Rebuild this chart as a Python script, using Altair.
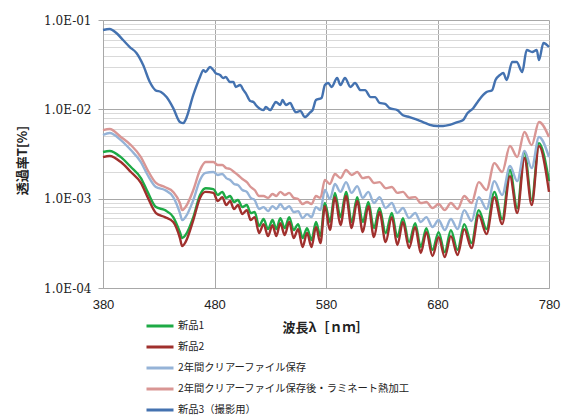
import altair as alt
import pandas as pd

# Series names (legend order) and line colours
series = [
    "新品1",
    "新品2",
    "2年間クリアーファイル保存",
    "2年間クリアーファイル保存後・ラミネート熱加工",
    "新品3（撮影用）",
]
colors = ["#1DAA45", "#A0302D", "#95B3D7", "#D99694", "#4472B0"]

# Wavelength grid (nm) shared by the four lower samples
wl_low = [380, 386, 396, 405, 414, 420, 427.5, 435.5, 443, 449, 451, 454, 461, 467, 472,
          479, 483, 487, 490.5, 494, 497.5, 501, 505, 509, 512.5, 516, 520, 524, 528,
          532, 535.5, 539, 543, 547, 551, 555, 559, 563, 567, 571, 575, 579, 583.5,
          588, 593, 598, 603, 608, 613, 618, 623, 628, 633.5, 639, 644, 649, 654.5,
          660, 665, 670, 675.5, 681, 686.5, 692, 698, 704, 710.5, 717, 724, 731, 738,
          745, 751.5, 758, 764.5, 771, 780]

# Transmittance in units of 1e-3 %
new1 = [3.33, 3.41, 2.92, 2.26, 1.70, 1.19, 0.805, 0.745, 0.622, 0.422, 0.362, 0.391, 0.622, 1.10, 1.31,
        1.28, 1.10, 1.19, 1.02, 1.07, 0.916, 0.965, 0.805, 0.848, 0.690, 0.708, 0.493, 0.591, 0.456,
        0.576, 0.456, 0.606, 0.468, 0.622, 0.445, 0.519, 0.362, 0.468, 0.344, 0.547, 0.381, 0.893, 0.547,
        1.16, 0.622, 1.19, 0.547, 1.04, 0.547, 0.916, 0.468, 0.785, 0.412, 0.690, 0.371, 0.606, 0.326,
        0.533, 0.287, 0.468, 0.266, 0.422, 0.252, 0.445, 0.266, 0.519, 0.318, 0.745, 0.456, 1.19, 0.591,
        2.09, 0.785, 3.33, 0.965, 4.19, 1.57]
new2 = [2.92, 3.00, 2.57, 1.99, 1.50, 1.04, 0.690, 0.622, 0.547, 0.362, 0.294, 0.326, 0.576, 1.02, 1.19,
        1.16, 0.940, 1.04, 0.848, 0.940, 0.765, 0.848, 0.672, 0.745, 0.576, 0.622, 0.412, 0.519, 0.381,
        0.506, 0.381, 0.533, 0.391, 0.547, 0.362, 0.456, 0.287, 0.412, 0.287, 0.481, 0.318, 0.826, 0.445,
        1.04, 0.506, 1.07, 0.468, 0.940, 0.422, 0.826, 0.371, 0.708, 0.326, 0.622, 0.302, 0.547, 0.280,
        0.481, 0.246, 0.422, 0.228, 0.371, 0.222, 0.381, 0.234, 0.456, 0.280, 0.655, 0.401, 1.04, 0.519,
        1.79, 0.690, 2.85, 0.848, 3.88, 1.19]
stored = [5.16, 5.43, 4.53, 3.50, 2.57, 1.84, 1.35, 1.25, 1.04, 0.690, 0.576, 0.622, 0.965, 1.62, 1.94,
          1.99, 1.84, 1.89, 1.70, 1.62, 1.46, 1.42, 1.25, 1.19, 1.02, 0.965, 0.765, 0.805, 0.726,
          0.826, 0.765, 0.870, 0.765, 0.826, 0.708, 0.726, 0.606, 0.672, 0.622, 0.805, 0.745, 1.25, 0.990,
          1.46, 1.19, 1.53, 1.16, 1.38, 1.02, 1.19, 0.893, 1.04, 0.785, 0.893, 0.690, 0.785, 0.606,
          0.690, 0.547, 0.622, 0.481, 0.576, 0.445, 0.591, 0.456, 0.745, 0.561, 1.04, 0.765, 1.57, 1.10,
          2.32, 1.57, 3.41, 2.20, 4.90, 2.92]
laminated = [5.86, 6.02, 4.90, 3.98, 2.92, 2.09, 1.50, 1.35, 1.19, 0.893, 0.745, 0.805, 1.25, 2.09, 2.57,
             2.57, 2.38, 2.38, 2.20, 2.15, 1.99, 1.84, 1.66, 1.53, 1.35, 1.25, 1.07, 1.07, 1.02,
             1.13, 1.07, 1.19, 1.10, 1.16, 1.02, 0.990, 0.870, 0.916, 0.870, 1.07, 1.02, 1.62, 1.46,
             1.89, 1.70, 2.09, 1.84, 1.99, 1.70, 1.75, 1.50, 1.53, 1.31, 1.35, 1.16, 1.19, 1.02,
             1.04, 0.893, 0.916, 0.785, 0.870, 0.745, 0.893, 0.765, 1.07, 0.893, 1.53, 1.25, 2.50, 1.99,
             3.88, 2.92, 5.57, 3.98, 7.21, 4.90]

# Upper sample measured on its own wavelength grid
wl_top = [380, 386, 392, 398, 404, 410, 416, 422, 427, 432, 437, 443, 449, 452, 454, 461, 467, 470,
          472, 476, 479, 481, 485, 488, 490, 494, 497, 499, 503, 506, 508, 512, 515, 517, 521, 524,
          526, 530, 533, 535, 539, 541, 544, 548, 550, 553, 557, 561, 566, 568, 571, 576, 579, 582,
          585, 590, 593, 597, 602, 606, 611, 615, 620, 624, 628, 633, 637, 644, 649, 655, 662, 667,
          673, 680, 685, 691, 698, 703, 707, 712, 716, 721, 724, 729, 732, 736, 739, 742, 747, 751,
          756, 760, 765, 769, 771, 775, 780]
new3 = [77.3, 79.3, 71.5, 59.7, 49.8, 42.7, 31.3, 20.2, 16.4, 15.6, 13.7, 10.3, 7.2, 7.0, 7.6, 14.5,
        23.0, 27.5, 26.2, 29.8, 27.5, 25.5, 24.2, 22.4, 23.0, 20.2, 20.2, 17.8, 18.7, 16.4, 15.2, 12.4,
        12.1, 11.2, 10.1, 9.8, 10.6, 9.8, 11.2, 12.1, 11.2, 12.7, 11.2, 11.8, 10.6, 9.3, 9.6, 8.2, 9.3,
        9.8, 12.7, 13.4, 18.7, 19.7, 17.8, 22.4, 18.7, 22.4, 17.8, 19.7, 16.4, 16.4, 13.7, 13.7, 11.8,
        11.5, 10.3, 9.8, 8.6, 8.2, 7.6, 7.2, 6.7, 6.5, 6.5, 6.7, 7.2, 7.6, 9.1, 10.3, 12.1, 14.5, 15.6,
        16.4, 21.3, 24.2, 25.5, 21.3, 33.9, 33.9, 26.2, 46.1, 43.8, 46.1, 35.6, 55.3, 49.8]

# Axis ticks
x_ticks = [380, 480, 580, 680, 780]
y_major = [0.0001, 0.001, 0.01, 0.1]
y_major_labels = ["1.0E-04", "1.0E-03", "1.0E-02", "1.0E-01"]
y_minor_steps = [2, 3, 4, 5, 6, 7, 8, 9]

y_ticks = []
for d in y_major[:-1]:
    y_ticks.append(d)
    y_ticks.extend(round(d * k, 6) for k in y_minor_steps)
y_ticks.append(y_major[-1])

frames = []
for name, wl, vals in [
    (series[0], wl_low, new1),
    (series[1], wl_low, new2),
    (series[2], wl_low, stored),
    (series[3], wl_low, laminated),
    (series[4], wl_top, new3),
]:
    assert len(wl) == len(vals), name
    frames.append(pd.DataFrame({"series": name, "wl": wl, "T": [v * 1e-3 for v in vals]}))
df = pd.concat(frames, ignore_index=True)

major_test = " || ".join(f"datum.value == {v}" for v in y_major)
label_expr = " : ".join(f"datum.value == {v} ? '{t}'" for v, t in zip(y_major, y_major_labels)) + " : ''"

chart = (
    alt.Chart(df)
    .mark_line(strokeWidth=2.4, interpolate="monotone")
    .encode(
        x=alt.X(
            "wl:Q",
            scale=alt.Scale(domain=[380, 780], nice=False, zero=False),
            axis=alt.Axis(
                values=x_ticks,
                grid=True,
                gridColor="#a8a8a8",
                ticks=False,
                domainColor="#a8a8a8",
                labelFont="Liberation Sans",
                labelFontSize=13,
                labelColor="#222222",
                labelPadding=10,
                labelFlush=False,
                title="波長λ［ｎｍ］",
                titleFont="Noto Sans CJK JP",
                titleFontSize=13,
                titleFontWeight="bold",
                titleColor="#222222",
                titleX=222,
                titleY=39,
                titleBaseline="middle",
                titleAlign="center",
            ),
        ),
        y=alt.Y(
            "T:Q",
            scale=alt.Scale(type="log", domain=[0.0001, 0.1], nice=False),
            axis=alt.Axis(
                values=y_ticks,
                labelExpr=label_expr,
                grid=True,
                gridColor={"condition": {"test": major_test, "value": "#a8a8a8"}, "value": "#d9d9d9"},
                tickSize=5,
                tickColor={"condition": {"test": major_test, "value": "#a8a8a8"}, "value": "transparent"},
                domainColor="#a8a8a8",
                labelFont="DejaVu Serif",
                labelFontSize=12,
                labelColor="#222222",
                labelPadding=7,
                title="透過率T[%]",
                titleFont="Noto Sans CJK JP",
                titleFontSize=13,
                titleFontWeight="bold",
                titleColor="#222222",
                titleX=-81,
                titleY=140,
                titleAngle=-90,
                titleBaseline="middle",
                titleAlign="center",
            ),
        ),
        color=alt.Color(
            "series:N",
            sort=series,
            scale=alt.Scale(domain=series, range=colors),
            legend=alt.Legend(
                orient="none",
                legendX=42,
                legendY=296,
                title=None,
                direction="vertical",
                symbolType="stroke",
                symbolSize=729,
                symbolStrokeWidth=3,
                clipHeight=20.2,
                rowPadding=0,
                padding=0,
                labelFont="Noto Sans CJK JP",
                labelFontSize=10.3,
                labelColor="#222222",
                labelOffset=3,
                labelLimit=0,
            ),
        ),
        detail="series:N",
    )
    .properties(
        width=446,
        height=268,
        autosize=alt.AutoSizeParams(type="none"),
        padding={"left": 103, "top": 20, "right": 12, "bottom": 127},
        background="white",
    )
    .configure_view(stroke=None)
)

chart.save("out.html", embed_options={"renderer": "svg", "actions": False})
